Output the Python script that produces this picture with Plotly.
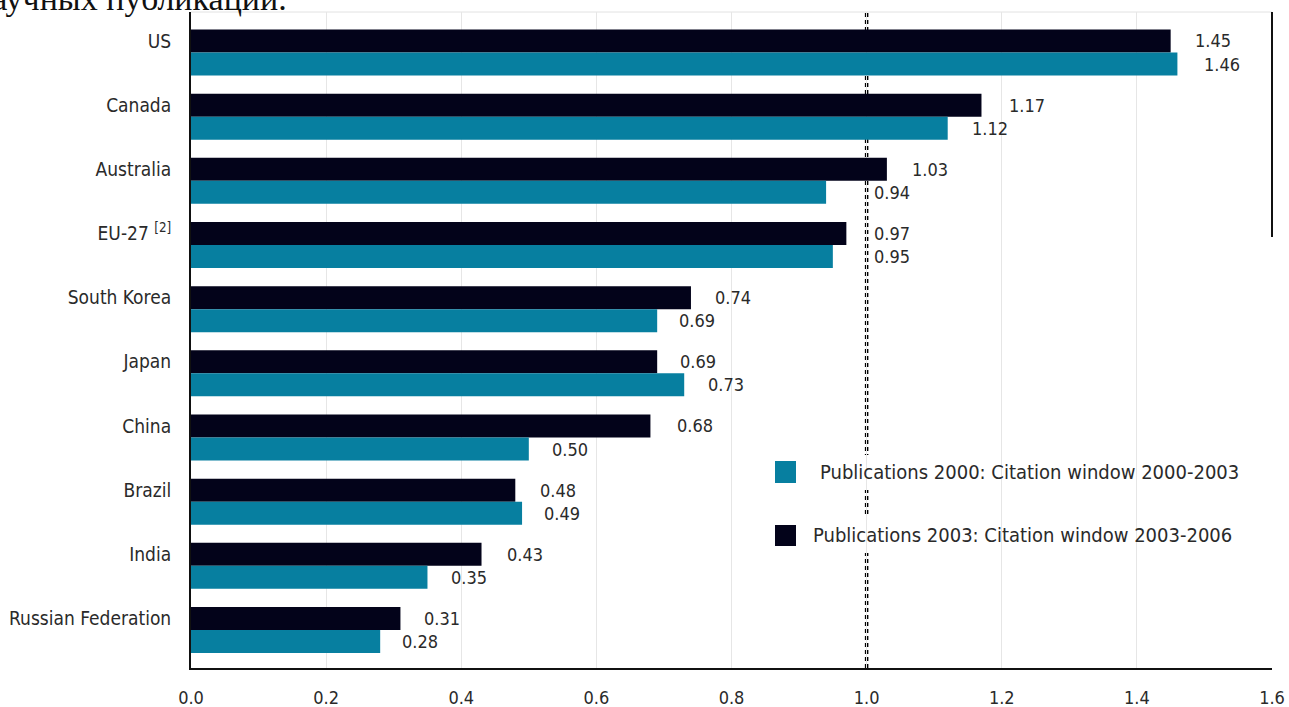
import plotly.graph_objects as go

# ---- data -------------------------------------------------------------
categories = ["US", "Canada", "Australia", "EU-27 <sup>[2]</sup>", "South Korea",
              "Japan", "China", "Brazil", "India", "Russian Federation"]
pub_2003 = [1.45, 1.17, 1.03, 0.97, 0.74, 0.69, 0.68, 0.48, 0.43, 0.31]
pub_2000 = [1.46, 1.12, 0.94, 0.95, 0.69, 0.73, 0.50, 0.49, 0.35, 0.28]
x_ticks = [0.0, 0.2, 0.4, 0.6, 0.8, 1.0, 1.2, 1.4, 1.6]
legend_2000 = "Publications 2000: Citation window 2000-2003"
legend_2003 = "Publications 2003: Citation window 2003-2006"
heading = "научных публикаций."

# ---- styling / placement ------------------------------------------------
W, H = 1289, 707
M_L, M_R, M_T, M_B = 191, 17, 12, 39
PW, PH = W - M_L - M_R, H - M_T - M_B
FONT = "DejaVu Sans Condensed, Liberation Sans Narrow, Arial Narrow, sans-serif"
TEAL = "#077fa0"
DARK = "#03031a"
TXT = "#2a2a2a"
BAR_HALF = 0.18          # offset of each bar centre from the category centre
# horizontal gap (px) between bar end and its value label
shift_2003 = [22, 26, 23, 26, 22, 21, 25, 23, 23, 22]
shift_2000 = [25, 22, 46, 39, 20, 22, 21, 20, 22, 20]


def px_x(px):
    return (px - M_L) / PW


def px_y(py):
    return (H - M_B - py) / PH


idx = list(range(len(categories)))

fig = go.Figure()
fig.add_trace(go.Bar(y=idx, x=pub_2003, orientation="h", marker_color=DARK,
                     marker_line_width=0, name=legend_2003, showlegend=False))
fig.add_trace(go.Bar(y=idx, x=pub_2000, orientation="h", marker_color=TEAL,
                     marker_line_width=0, name=legend_2000, showlegend=False))

annotations = []
for i in idx:
    annotations.append(dict(x=pub_2003[i], y=i - BAR_HALF, xref="x", yref="y",
                            text=f"{pub_2003[i]:.2f}", showarrow=False,
                            xanchor="left", yanchor="middle", xshift=shift_2003[i],
                            font=dict(family=FONT, size=18, color=TXT)))
    annotations.append(dict(x=pub_2000[i], y=i + BAR_HALF, xref="x", yref="y",
                            text=f"{pub_2000[i]:.2f}", showarrow=False,
                            xanchor="left", yanchor="middle", xshift=shift_2000[i],
                            font=dict(family=FONT, size=18, color=TXT)))

# legend rows
annotations.append(dict(x=px_x(818), y=px_y(472), xref="paper", yref="paper",
                        text=legend_2000, showarrow=False, xanchor="left",
                        yanchor="middle", font=dict(family=FONT, size=20, color=TXT)))
annotations.append(dict(x=px_x(811), y=px_y(535), xref="paper", yref="paper",
                        text=legend_2003, showarrow=False, xanchor="left",
                        yanchor="middle", font=dict(family=FONT, size=20, color=TXT)))

# running text above the chart
annotations.append(dict(x=px_x(-28), y=px_y(19), xref="paper", yref="paper",
                        text=heading, showarrow=False, xanchor="left",
                        yanchor="bottom",
                        font=dict(family="Liberation Serif, Times New Roman, serif",
                                  size=34, color="#111111")))

shapes = [
    # reference line at 1.0
    dict(type="line", xref="x", yref="paper", x0=1.0, x1=1.0, y0=0, y1=1,
         line=dict(color="#000000", width=3.5, dash="4px,3px"), layer="between"),
    # light top border
    dict(type="line", xref="paper", yref="paper", x0=0, x1=1, y0=1, y1=1,
         line=dict(color="#e2e2e2", width=1), layer="between"),
    # dark frame piece on the right
    dict(type="line", xref="paper", yref="paper", x0=1, x1=1, y0=px_y(237), y1=1,
         line=dict(color="#111111", width=2), layer="above"),
    # white backing behind the legend rows
    dict(type="rect", xref="paper", yref="paper", x0=px_x(768), x1=px_x(1252),
         y0=px_y(490), y1=px_y(455), fillcolor="white", line_width=0, layer="between"),
    dict(type="rect", xref="paper", yref="paper", x0=px_x(768), x1=px_x(1238),
         y0=px_y(553), y1=px_y(517), fillcolor="white", line_width=0, layer="between"),
    # legend swatches
    dict(type="rect", xref="paper", yref="paper", x0=px_x(775), x1=px_x(796),
         y0=px_y(483), y1=px_y(461), fillcolor=TEAL, line_width=0, layer="above"),
    dict(type="rect", xref="paper", yref="paper", x0=px_x(775), x1=px_x(796),
         y0=px_y(546), y1=px_y(525), fillcolor=DARK, line_width=0, layer="above"),
]

fig.update_layout(
    width=W, height=H,
    margin=dict(l=M_L, r=M_R, t=M_T, b=M_B, pad=0, autoexpand=False),
    paper_bgcolor="white", plot_bgcolor="white",
    barmode="group", bargap=0.283, bargroupgap=0,
    annotations=annotations, shapes=shapes,
    font=dict(family=FONT, color=TXT),
)
fig.update_xaxes(range=[0, 1.6], tickvals=x_ticks,
                 ticktext=[f"{v:.1f}" for v in x_ticks],
                 showgrid=True, gridcolor="#e6e6e6", gridwidth=1,
                 zeroline=False, showline=True, linecolor="#111111", linewidth=2,
                 ticks="", ticklabelstandoff=12, automargin=False,
                 tickfont=dict(family=FONT, size=18, color=TXT))
fig.update_yaxes(range=[9.592, -0.631], tickvals=[i - BAR_HALF for i in idx],
                 ticktext=categories, showgrid=False, zeroline=False,
                 showline=True, linecolor="#111111", linewidth=2,
                 ticks="", ticklabelstandoff=14, automargin=False,
                 tickfont=dict(family=FONT, size=19, color=TXT))

fig.write_html("out.html")
